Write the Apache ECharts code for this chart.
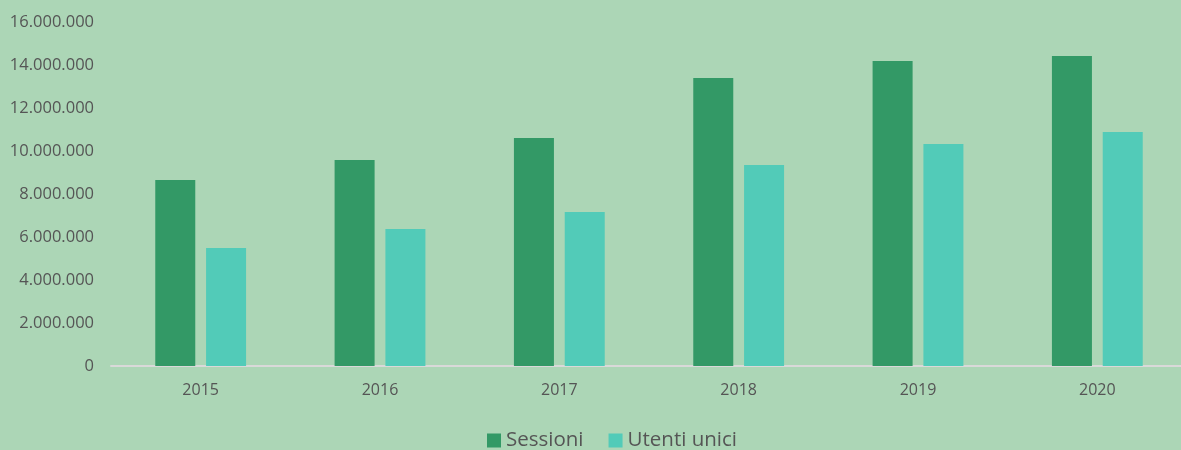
<!DOCTYPE html>
<html>
<head>
<meta charset="utf-8">
<script src="https://cdn.jsdelivr.net/npm/echarts@6/dist/echarts.min.js"></script>
<style>
  html, body { margin: 0; padding: 0; background: #acd6b6; overflow: hidden; }
  #myChart { width: 1187px; height: 450px; }
</style>
</head>
<body>
<div id="myChart"></div>
<script>
  // values
  let anni = ['2015', '2016', '2017', '2018', '2019', '2020'];
  let sessioni = [8650000, 9580000, 10600000, 13400000, 14190000, 14420000];
  let utentiUnici = [5490000, 6370000, 7160000, 9350000, 10330000, 10880000];

  let myChart = echarts.init(document.getElementById('myChart'));

  function formatIt(v) {
    return String(v).replace(/\B(?=(\d{3})+(?!\d))/g, '.');
  }

  // the plot runs a few px past the right edge in the original, hence the wider div
  myChart.setOption({
    backgroundColor: '#acd6b6',
    textStyle: { fontFamily: 'Open Sans', color: '#555555' },
    grid: { left: 111, right: 0, top: 22, height: 344 },
    legend: {
      bottom: -6,
      left: 482,
      itemWidth: 14,
      itemHeight: 14,
      itemGap: 25,
      icon: 'rect',
      textStyle: { fontSize: 20.5, color: '#555555', fontFamily: 'Open Sans' },
      data: ['Sessioni', 'Utenti unici']
    },
    xAxis: {
      type: 'category',
      data: anni,
      axisLine: { lineStyle: { color: '#d9d9d9', width: 2 } },
      axisTick: { show: false },
      axisLabel: { fontSize: 16, color: '#555555', margin: 16 }
    },
    yAxis: {
      type: 'value',
      min: 0,
      max: 16000000,
      interval: 2000000,
      axisLine: { show: false },
      axisTick: { show: false },
      splitLine: { show: false },
      axisLabel: { fontSize: 16.5, color: '#555555', margin: 17, formatter: formatIt }
    },
    series: [
      {
        name: 'Sessioni',
        type: 'bar',
        barWidth: 40,
        barGap: '27%',
        itemStyle: { color: '#339966' },
        data: sessioni
      },
      {
        name: 'Utenti unici',
        type: 'bar',
        barWidth: 40,
        itemStyle: { color: '#52cbb8' },
        data: utentiUnici
      }
    ]
  });
</script>
</body>
</html>
